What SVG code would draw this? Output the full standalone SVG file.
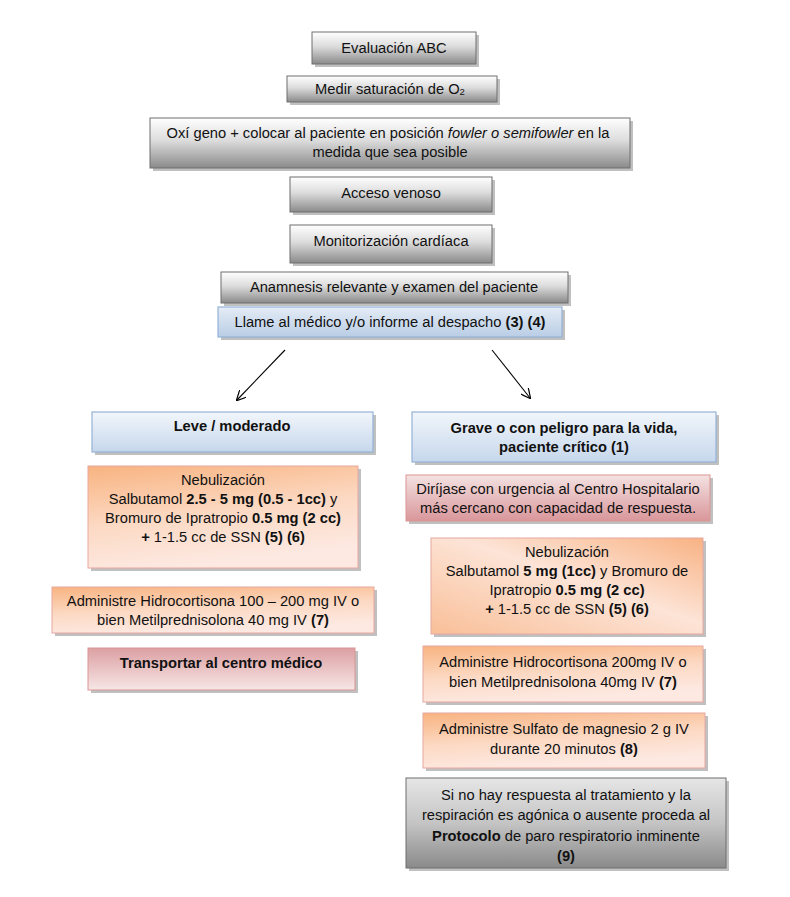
<svg xmlns="http://www.w3.org/2000/svg" width="790" height="897" viewBox="0 0 790 897">
<defs>
<linearGradient id="gGray" x1="0" y1="0" x2="0" y2="1"><stop offset="0" stop-color="#ffffff"/><stop offset="0.45" stop-color="#dcdcdc"/><stop offset="1" stop-color="#8a8a8a"/></linearGradient>
<linearGradient id="gGrayD" x1="0" y1="0" x2="0" y2="1"><stop offset="0" stop-color="#e6e6e6"/><stop offset="0.5" stop-color="#c4c4c4"/><stop offset="1" stop-color="#8a8a8a"/></linearGradient>
<linearGradient id="gBlue" x1="0" y1="0" x2="0" y2="1"><stop offset="0" stop-color="#e4ecf6"/><stop offset="1" stop-color="#b9cde5"/></linearGradient>
<linearGradient id="gBlueL" x1="0" y1="0" x2="0" y2="1"><stop offset="0" stop-color="#f2f6fb"/><stop offset="1" stop-color="#c6d7ec"/></linearGradient>
<linearGradient id="gOrange" x1="0" y1="0" x2="0.3" y2="1"><stop offset="0" stop-color="#f8b380"/><stop offset="0.55" stop-color="#fcd9c3"/><stop offset="1" stop-color="#fde9e2"/></linearGradient>
<linearGradient id="gOrangeR" x1="1" y1="0" x2="0" y2="1"><stop offset="0" stop-color="#f8b283"/><stop offset="0.45" stop-color="#fde4d7"/><stop offset="1" stop-color="#f9bf98"/></linearGradient>
<linearGradient id="gRose" x1="0" y1="0" x2="0" y2="1"><stop offset="0" stop-color="#f4e2e2"/><stop offset="1" stop-color="#d9969a"/></linearGradient>
<linearGradient id="gRoseT" x1="0" y1="0" x2="0" y2="1"><stop offset="0" stop-color="#dca0a3"/><stop offset="1" stop-color="#f7e6e6"/></linearGradient>
<marker id="arr" viewBox="0 0 10 10" refX="9" refY="5" markerWidth="10" markerHeight="10" markerUnits="userSpaceOnUse" orient="auto"><path d="M0,0 L10,5 L0,10" fill="none" stroke="#000" stroke-width="1.2"/></marker>
</defs>
<style>
text{font-family:"Liberation Sans",Arial,sans-serif;font-size:14.7px;fill:#111;text-anchor:middle}
.b{font-weight:bold}
.i{font-style:italic}
.sh{fill:#8c8c8c;opacity:0.55}
.gray{fill:url(#gGray);stroke:#6f6f6f;stroke-width:1}
.grayd{fill:url(#gGrayD);stroke:#6f6f6f;stroke-width:1}
.blue{fill:url(#gBlue);stroke:#95b3d7;stroke-width:1.2}
.bluel{fill:url(#gBlueL);stroke:#95b3d7;stroke-width:1.2}
.org{fill:url(#gOrange);stroke:#e6a7a0;stroke-width:1}
.orgr{fill:url(#gOrangeR);stroke:#e6a7a0;stroke-width:1}
.rose{fill:url(#gRose);stroke:#d99694;stroke-width:1}
.roset{fill:url(#gRoseT);stroke:#d99694;stroke-width:1}
.conn{stroke:#000;stroke-width:1.1;fill:none}
</style>
<rect width="790" height="897" fill="#ffffff"/>

<g id="n1">
<rect class="sh" x="315" y="35" width="164" height="32"/>
<rect class="gray" x="312" y="32" width="164" height="32"/>
<text x="394" y="53">Evaluación ABC</text>
</g>
<g id="n2">
<rect class="sh" x="290" y="79" width="210" height="26"/>
<rect class="gray" x="287" y="76" width="210" height="26"/>
<text x="390" y="94">Medir saturación de O<tspan font-size="9.5" dy="1">2</tspan></text>
</g>
<g id="n3">
<rect class="sh" x="153" y="121" width="480" height="50"/>
<rect class="gray" x="150" y="118" width="480" height="50"/>
<text x="388" y="138">Oxí geno + colocar al paciente en posición <tspan class="i">fowler o semifowler</tspan> en la</text>
<text x="390" y="157">medida que sea posible</text>
</g>
<g id="n4">
<rect class="sh" x="293" y="180" width="202" height="35"/>
<rect class="gray" x="290" y="177" width="202" height="35"/>
<text x="391" y="198">Acceso venoso</text>
</g>
<g id="n5">
<rect class="sh" x="293" y="228" width="202" height="38"/>
<rect class="gray" x="290" y="225" width="202" height="38"/>
<text x="391" y="246">Monitorización cardíaca</text>
</g>
<g id="n6">
<rect class="sh" x="224" y="275" width="347" height="31"/>
<rect class="gray" x="221" y="272" width="347" height="31"/>
<text x="394" y="292">Anamnesis relevante y examen del paciente</text>
</g>
<g id="n7">
<rect class="sh" x="221" y="310" width="344" height="30"/>
<rect class="blue" x="218" y="307" width="344" height="30"/>
<text x="390" y="327">Llame al médico y/o informe al despacho <tspan class="b">(3) (4)</tspan></text>
</g>

<g id="connectors">
<line class="conn" x1="285" y1="350" x2="237" y2="400" marker-end="url(#arr)"/>
<line class="conn" x1="492" y1="350" x2="530" y2="398" marker-end="url(#arr)"/>
</g>

<g id="n8">
<rect class="sh" x="95" y="415" width="281" height="40"/>
<rect class="bluel" x="92" y="412" width="281" height="40"/>
<text class="b" x="232" y="431">Leve / moderado</text>
</g>
<g id="n9">
<rect class="sh" x="415" y="415" width="304" height="50"/>
<rect class="bluel" x="412" y="412" width="304" height="50"/>
<text class="b" x="564" y="433">Grave o con peligro para la vida,</text>
<text class="b" x="564" y="452">paciente crítico (1)</text>
</g>
<g id="n10">
<rect class="sh" x="91" y="469" width="270" height="102"/>
<rect class="org" x="88" y="466" width="270" height="102"/>
<text x="223" y="485">Nebulización</text>
<text x="223" y="504">Salbutamol <tspan class="b">2.5 - 5 mg (0.5 - 1cc)</tspan> y</text>
<text x="223" y="523">Bromuro de Ipratropio <tspan class="b">0.5 mg (2 cc)</tspan></text>
<text x="223" y="542"><tspan class="b">+</tspan> 1-1.5 cc de SSN <tspan class="b">(5) (6)</tspan></text>
</g>
<g id="n11">
<rect class="sh" x="55" y="590" width="322" height="46"/>
<rect class="org" x="52" y="587" width="322" height="46"/>
<text x="213" y="606">Administre Hidrocortisona 100 – 200 mg IV o</text>
<text x="213" y="625">bien Metilprednisolona 40 mg IV <tspan class="b">(7)</tspan></text>
</g>
<g id="n12">
<rect class="sh" x="91" y="651" width="267" height="42"/>
<rect class="roset" x="88" y="648" width="267" height="42"/>
<text class="b" x="221" y="668">Transportar al centro médico</text>
</g>
<g id="n13">
<rect class="sh" x="409" y="478" width="304" height="46"/>
<rect class="rose" x="406" y="475" width="304" height="46"/>
<text x="558" y="494">Diríjase con urgencia al Centro Hospitalario</text>
<text x="558" y="513">más cercano con capacidad de respuesta.</text>
</g>
<g id="n14">
<rect class="sh" x="434" y="541" width="272" height="96"/>
<rect class="orgr" x="431" y="538" width="272" height="96"/>
<text x="567" y="557">Nebulización</text>
<text x="567" y="576">Salbutamol <tspan class="b">5 mg (1cc)</tspan> y Bromuro de</text>
<text x="567" y="595">Ipratropio <tspan class="b">0.5 mg (2 cc)</tspan></text>
<text x="567" y="614"><tspan class="b">+</tspan> 1-1.5 cc de SSN <tspan class="b">(5) (6)</tspan></text>
</g>
<g id="n15">
<rect class="sh" x="426" y="649" width="280" height="56"/>
<rect class="org" x="423" y="646" width="280" height="56"/>
<text x="563" y="667">Administre Hidrocortisona 200mg IV o</text>
<text x="563" y="687">bien Metilprednisolona 40mg IV <tspan class="b">(7)</tspan></text>
</g>
<g id="n16">
<rect class="sh" x="426" y="716" width="282" height="55"/>
<rect class="org" x="423" y="713" width="282" height="55"/>
<text x="564" y="734">Administre Sulfato de magnesio 2 g IV</text>
<text x="564" y="754">durante 20 minutos <tspan class="b">(8)</tspan></text>
</g>
<g id="n17">
<rect class="sh" x="409" y="781" width="320" height="90"/>
<rect class="grayd" x="406" y="778" width="320" height="90"/>
<text x="566" y="800">Si no hay respuesta al tratamiento y la</text>
<text x="566" y="820">respiración es agónica o ausente proceda al</text>
<text x="566" y="841"><tspan class="b">Protocolo</tspan> de paro respiratorio inminente</text>
<text class="b" x="566" y="861">(9)</text>
</g>
</svg>
